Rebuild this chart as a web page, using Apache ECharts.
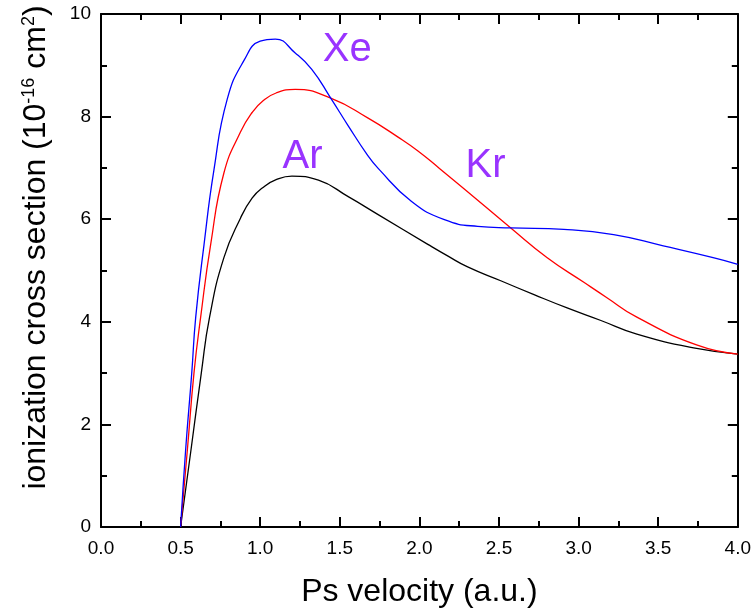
<!DOCTYPE html>
<html>
<head>
<meta charset="utf-8">
<script src="https://cdn.jsdelivr.net/npm/echarts@6/dist/echarts.min.js"></script>
<style>html,body{margin:0;padding:0;background:#fff}#c{width:754px;height:613px}</style>
</head>
<body>
<div id="c"></div>
<script>
// Xe (blue)
const xeX = [0.5,0.532,0.570,0.595,0.647,0.709,0.793,0.901,1.0,1.095,1.22,1.324,1.443,1.553,1.674,1.741,1.949,2.157,2.366,2.574,2.907,3.22,3.532,3.845,4.0];
const xeY = [0,1.52,3.0,4.09,5.5,6.95,8.34,9.11,9.47,9.51,9.24,8.92,8.36,7.82,7.25,6.99,6.35,5.99,5.86,5.83,5.80,5.70,5.48,5.25,5.12];
// Kr (red)
const krX = [0.5,0.543,0.584,0.626,0.689,0.772,0.876,0.949,1.018,1.1,1.22,1.443,1.678,1.866,1.991,2.126,2.282,2.574,2.803,3.033,3.178,3.366,3.741,4.0];
const krY = [0,1.52,3.0,4.09,5.51,6.9,7.70,8.08,8.31,8.46,8.53,8.36,7.97,7.60,7.33,6.99,6.59,5.83,5.25,4.77,4.47,4.09,3.55,3.37];
// Ar (black)
const arX = [0.5,0.566,0.630,0.682,0.772,0.876,0.949,1.018,1.1,1.199,1.366,1.553,1.741,2.053,2.18,2.303,2.511,2.72,2.928,3.136,3.366,3.741,4.0];
const arY = [0,1.52,3.0,4.09,5.25,6.02,6.41,6.62,6.77,6.84,6.76,6.44,6.09,5.51,5.28,5.07,4.80,4.53,4.27,4.03,3.76,3.48,3.37];
// curve labels (data coordinates)
const labelNames = ['Xe','Ar','Kr'];
const labelX = [1.547,1.266,2.416];
const labelY = [9.29,7.22,7.03];
const xTicks = ['0.0','0.5','1.0','1.5','2.0','2.5','3.0','3.5','4.0'];

const zip = (xs, ys) => xs.map((x, i) => [x, ys[i]]);
const font = 'Liberation Sans, Arial, sans-serif';
const chart = echarts.init(document.getElementById('c'));
const axisCommon = {
  axisLine: {show: true, onZero: false, lineStyle: {color: '#000', width: 2}},
  axisTick: {show: true, inside: true, length: 10, lineStyle: {color: '#000', width: 2}},
  minorTick: {show: true, splitNumber: 2, length: 6, lineStyle: {color: '#000', width: 2}},
  splitLine: {show: false}
};
chart.setOption({
  animation: false,
  grid: {left: 101, right: 13, top: 14, bottom: 81, containLabel: false},
  xAxis: [
    Object.assign({}, axisCommon, {
      type: 'value', min: 0, max: 4, interval: 0.5, position: 'bottom',
      axisLabel: {color: '#000', fontSize: 19, fontFamily: font, margin: 12,
        formatter: v => xTicks[Math.round(v * 2)]},
      name: 'Ps velocity (a.u.)', nameLocation: 'middle', nameGap: 49,
      nameTextStyle: {color: '#000', fontSize: 32, fontFamily: font}
    }),
    Object.assign({}, axisCommon, {
      type: 'value', min: 0, max: 4, interval: 0.5, position: 'top',
      axisLabel: {show: false}
    })
  ],
  yAxis: [
    Object.assign({}, axisCommon, {
      type: 'value', min: 0, max: 10, interval: 2, position: 'left',
      axisLabel: {color: '#000', fontSize: 19, fontFamily: font, margin: 10},
      name: 'ionization cross section (10{s|-16} cm{s|2})',
      nameLocation: 'middle', nameGap: 49, nameRotate: 90,
      nameTextStyle: {color: '#000', fontSize: 32, fontFamily: font, padding: [0, 0, 0, 46],
        rich: {s: {fontSize: 18, fontFamily: font, verticalAlign: 'top', lineHeight: 18, padding: [0,0,17,0]}}}
    }),
    Object.assign({}, axisCommon, {
      type: 'value', min: 0, max: 10, interval: 2, position: 'right',
      axisLabel: {show: false}
    })
  ],
  series: [
    {type: 'line', data: zip(arX, arY), showSymbol: false, smooth: 0.5,
      lineStyle: {color: '#000000', width: 1.3}, z: 3},
    {type: 'line', data: zip(krX, krY), showSymbol: false, smooth: 0.5,
      lineStyle: {color: '#ff0000', width: 1.3}, z: 4},
    {type: 'line', data: zip(xeX, xeY), showSymbol: false, smooth: 0.5,
      lineStyle: {color: '#0000ff', width: 1.3}, z: 5},
    {type: 'scatter', symbolSize: 0, silent: true,
      data: labelNames.map((n, i) => ({name: n, value: [labelX[i], labelY[i]]})),
      label: {show: true, position: 'inside', formatter: p => p.name,
        color: '#8000ff', fontSize: 40, fontFamily: font}}
  ]
});
</script>
</body>
</html>
